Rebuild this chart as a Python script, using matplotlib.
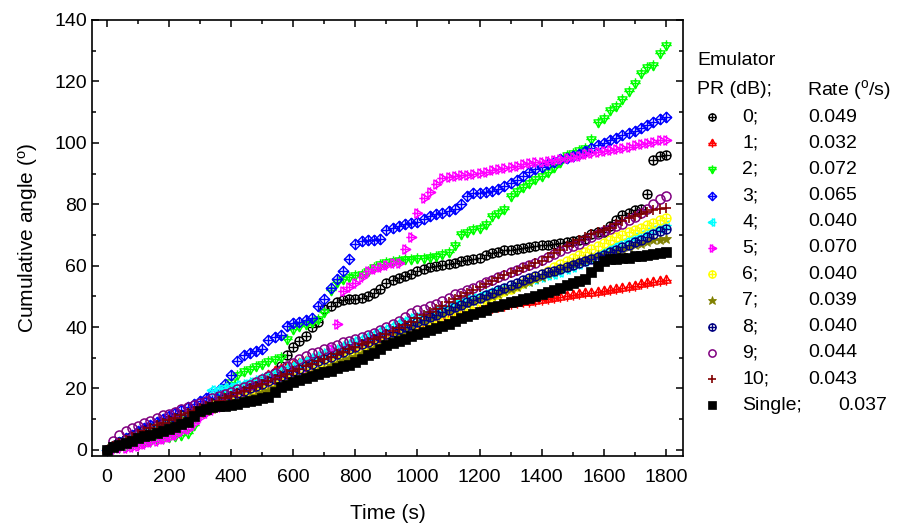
import numpy as np
import matplotlib
matplotlib.use("Agg")
import matplotlib.pyplot as plt
from matplotlib.path import Path
from matplotlib.transforms import Affine2D
from matplotlib.lines import Line2D
from matplotlib.ticker import MultipleLocator

plt.rcParams['font.family'] = ['Liberation Sans', 'DejaVu Sans']
plt.rcParams['mathtext.fontset'] = 'custom'
plt.rcParams['mathtext.rm'] = 'Liberation Sans'
plt.rcParams['mathtext.it'] = 'Liberation Sans:italic'

# sampling every 20 s, 0..1800
time_step = 20

pr_labels = ['0;', '1;', '2;', '3;', '4;', '5;', '6;', '7;', '8;', '9;', '10;', 'Single;']
rates = ['0.049', '0.032', '0.072', '0.065', '0.040', '0.070', '0.040', '0.039', '0.040', '0.044', '0.043', '0.037']

pr0 = [0, 1.2, 2.4, 3.4, 4.4, 5.4, 6.2, 7.0, 7.8, 8.6,
       9.4, 10.2, 11.0, 11.8, 12.6, 13.4, 14.0, 14.6, 15.2, 15.8,
       16.6, 17.4, 18.4, 19.4, 20.6, 22.0, 23.4, 25.0, 27.2, 31.0,
       33.4, 35.6, 37.2, 40.0, 41.8, 45.8, 46.8, 48.0, 48.8, 49.0,
       49.2, 49.6, 50.2, 51.0, 52.4, 54.2, 55.4, 56.0, 56.6, 57.4,
       58.2, 58.8, 59.4, 59.8, 60.2, 60.6, 61.0, 61.4, 61.8, 62.0,
       62.6, 63.6, 64.2, 64.6, 65.0, 65.2, 65.4, 65.8, 66.0, 66.4,
       66.6, 66.8, 67.0, 67.4, 67.8, 68.0, 68.4, 68.8, 70.2, 70.8,
       71.0, 72.8, 75.0, 76.4, 77.2, 78.0, 78.6, 83.4, 94.4, 95.6,
       96.0]
pr1 = [0, 1.2, 2.2, 3.2, 4.2, 5.0, 5.8, 6.6, 7.4, 8.2,
       9.0, 9.8, 10.6, 11.4, 12.2, 13.0, 13.8, 14.8, 15.8, 16.8,
       17.8, 18.8, 19.8, 20.8, 22.0, 23.2, 24.4, 25.6, 26.4, 27.0,
       27.6, 28.2, 28.8, 29.4, 30.0, 30.6, 31.2, 31.8, 32.4, 33.0,
       33.6, 34.2, 34.8, 35.4, 36.0, 36.6, 37.2, 37.8, 38.4, 39.0,
       39.6, 40.2, 40.8, 41.4, 42.0, 42.6, 43.2, 43.8, 44.4, 45.0,
       45.4, 45.8, 46.2, 46.6, 47.0, 47.4, 47.8, 48.0, 48.3, 48.6,
       48.9, 49.2, 49.5, 49.8, 50.1, 50.4, 50.7, 51.0, 51.2, 51.5,
       51.8, 52.1, 52.4, 52.8, 53.1, 53.5, 53.9, 54.3, 54.8, 55.1,
       55.4]
pr2 = [0, 0.6, 1.0, 1.4, 1.8, 2.2, 2.6, 3.0, 3.4, 3.8,
       4.2, 4.6, 5.0, 5.6, 8.0, 12.0, 14.0, 16.0, 18.0, 20.2,
       22.2, 24.4, 25.6, 26.4, 27.2, 28.0, 28.8, 29.6, 30.4, 36.0,
       39.2, 40.2, 41.0, 41.8, 42.6, 45.0, 52.0, 54.8, 55.6, 56.2,
       56.8, 57.4, 58.4, 59.6, 60.4, 61.2, 61.6, 61.8, 62.0, 62.2,
       62.4, 62.6, 62.8, 63.2, 63.8, 64.4, 66.8, 70.4, 71.0, 71.8,
       72.4, 73.6, 76.2, 77.2, 78.4, 82.8, 84.4, 85.6, 86.8, 88.2,
       89.2, 90.4, 92.0, 93.6, 96.0, 96.8, 97.6, 98.4, 101.4, 106.8,
       108.0, 110.6, 112.0, 114.4, 116.8, 119.4, 122.6, 124.6, 125.4, 129.4,
       132.0]
pr3 = [0, 1.4, 2.6, 3.8, 5.0, 6.0, 7.0, 8.0, 9.0, 10.0,
       11.0, 12.0, 13.0, 14.0, 15.0, 16.0, 17.0, 18.2, 19.6, 21.6,
       24.4, 29.0, 31.0, 31.6, 32.2, 32.8, 35.8, 36.6, 37.4, 40.4,
       41.4, 41.8, 42.2, 43.0, 46.8, 49.2, 52.6, 55.6, 58.4, 62.0,
       67.0, 68.0, 68.2, 68.4, 68.8, 71.6, 72.4, 72.8, 73.4, 73.8,
       74.2, 75.2, 76.2, 76.8, 77.2, 77.8, 78.6, 80.2, 82.6, 83.6,
       83.8, 84.0, 84.2, 84.8, 85.8, 86.8, 87.8, 89.2, 90.6, 91.4,
       92.2, 93.0, 93.8, 94.6, 95.2, 95.8, 96.4, 97.2, 98.2, 99.2,
       100.0, 100.8, 101.6, 102.4, 103.2, 104.0, 104.8, 105.8, 106.8, 107.6,
       108.4]
pr4 = [0, 1.2, 2.4, 3.4, 4.4, 5.4, 6.2, 7.0, 7.8, 8.6,
       9.4, 10.2, 11.0, 11.8, 12.6, 13.4, 14.2, 19.4, 19.8, 20.2,
       20.6, 21.0, 21.4, 22.0, 22.6, 23.4, 24.2, 25.0, 25.8, 26.6,
       27.4, 28.2, 29.0, 29.8, 30.6, 31.4, 32.2, 33.0, 33.8, 34.6,
       35.4, 36.2, 37.0, 37.8, 38.6, 39.4, 40.2, 41.2, 42.0, 42.8,
       43.4, 44.0, 44.6, 45.2, 45.8, 46.6, 47.4, 48.2, 49.0, 49.6,
       50.2, 50.8, 51.4, 52.0, 52.6, 53.2, 53.8, 54.4, 55.0, 55.6,
       56.2, 56.8, 57.4, 58.0, 58.8, 59.6, 60.4, 61.4, 62.4, 63.4,
       64.4, 65.4, 66.4, 67.4, 68.4, 69.2, 70.0, 70.8, 71.6, 72.4,
       73.3]
pr5 = [0, 0.3, 0.5, 0.7, 1.0, 1.4, 1.8, 2.4, 3.0, 3.6,
       4.2, 5.0, 6.0, 6.8, 8.8, 10.6, 12.0, 13.0, 14.0, 15.0,
       16.0, 17.0, 17.8, 18.6, 19.4, 20.2, 21.0, 21.8, 22.6, 23.2,
       23.6, 24.0, 24.4, 24.8, 25.2, 25.6, 33.0, 41.0, 51.8, 53.0,
       54.4, 56.4, 58.4, 58.8, 59.6, 60.2, 61.0, 61.0, 65.4, 69.4,
       77.0, 82.0, 84.0, 86.6, 88.6, 89.0, 89.2, 89.4, 89.6, 89.8,
       90.2, 90.6, 91.0, 91.4, 91.8, 92.2, 92.6, 93.0, 93.4, 93.6,
       93.8, 94.0, 94.4, 94.8, 95.2, 95.4, 95.8, 96.2, 96.6, 97.0,
       97.2, 97.6, 98.0, 98.4, 98.8, 99.2, 99.6, 100.0, 100.4, 100.8,
       101.0]
pr6 = [0, 1.2, 2.2, 3.2, 4.2, 5.2, 6.0, 6.8, 7.6, 8.4,
       9.2, 10.0, 10.8, 11.6, 12.4, 13.0, 13.6, 14.2, 14.8, 15.4,
       16.0, 16.6, 17.2, 17.8, 18.6, 19.4, 20.2, 21.0, 21.8, 22.6,
       23.4, 24.2, 25.0, 25.8, 26.6, 27.4, 28.2, 29.0, 29.8, 30.6,
       31.4, 32.2, 33.0, 33.8, 34.6, 35.4, 36.4, 37.4, 38.4, 39.4,
       40.2, 41.0, 41.8, 42.6, 43.4, 44.2, 45.0, 46.0, 46.8, 47.6,
       48.4, 49.2, 50.0, 50.8, 51.6, 52.4, 53.4, 54.4, 55.4, 56.4,
       57.4, 58.4, 59.4, 60.4, 61.4, 62.4, 63.4, 64.4, 65.4, 66.4,
       67.4, 68.4, 69.2, 70.0, 70.8, 71.6, 72.4, 73.2, 74.0, 74.8,
       75.5]
pr7 = [0, 1.0, 1.8, 2.6, 3.4, 4.2, 5.0, 5.8, 6.6, 7.4,
       8.2, 9.0, 9.8, 10.6, 11.4, 12.0, 12.6, 13.2, 13.8, 14.4,
       15.0, 15.6, 16.2, 16.8, 17.6, 18.4, 19.2, 20.0, 20.8, 21.6,
       22.4, 23.2, 24.0, 24.8, 25.6, 26.4, 27.2, 28.0, 28.8, 29.6,
       30.4, 31.2, 32.0, 32.8, 33.6, 34.6, 36.0, 37.4, 38.8, 40.2,
       41.2, 42.0, 42.8, 43.6, 44.4, 45.2, 46.0, 46.8, 47.6, 48.4,
       49.0, 49.6, 50.2, 50.8, 51.6, 52.4, 53.2, 54.0, 54.8, 55.6,
       56.4, 57.2, 58.0, 58.8, 59.6, 60.4, 61.2, 61.8, 62.4, 63.0,
       63.6, 64.2, 64.8, 65.4, 66.0, 66.6, 67.2, 67.8, 68.2, 68.5,
       68.7]
pr8 = [0, 1.4, 2.6, 3.6, 4.6, 5.6, 6.4, 7.2, 8.0, 8.8,
       9.6, 10.4, 11.2, 12.0, 12.8, 13.6, 14.4, 15.2, 16.0, 16.8,
       17.6, 18.4, 19.2, 20.0, 20.8, 21.6, 22.4, 23.2, 24.0, 24.8,
       25.6, 26.4, 27.2, 28.0, 28.8, 29.6, 30.4, 31.2, 32.0, 32.8,
       33.6, 34.4, 35.2, 36.0, 36.8, 37.6, 38.4, 39.2, 40.0, 40.8,
       41.6, 42.4, 43.2, 44.0, 44.8, 45.6, 46.4, 47.2, 48.0, 48.8,
       49.6, 50.4, 51.2, 52.0, 52.8, 53.6, 54.4, 55.2, 56.0, 56.6,
       57.2, 57.8, 58.4, 59.0, 59.6, 60.2, 60.8, 61.4, 62.0, 62.8,
       63.6, 64.4, 65.2, 66.0, 66.8, 67.6, 68.4, 69.4, 70.4, 71.2,
       72.0]
pr9 = [0, 3.0, 4.8, 6.0, 7.2, 7.8, 8.6, 9.5, 10.4, 11.2,
       11.8, 12.4, 13.2, 14.0, 14.6, 15.2, 15.8, 16.8, 17.6, 18.2,
       19.0, 19.8, 20.4, 21.2, 22.2, 23.2, 24.2, 25.0, 26.0, 27.2,
       28.4, 29.6, 30.6, 31.4, 32.0, 32.8, 33.6, 34.2, 35.0, 35.6,
       36.2, 36.8, 37.4, 38.0, 39.0, 40.0, 41.0, 42.0, 43.2, 44.6,
       45.4, 46.0, 46.8, 47.6, 48.6, 49.6, 50.6, 51.2, 52.0, 52.8,
       53.6, 54.6, 55.4, 56.2, 57.0, 57.8, 58.6, 59.4, 60.2, 61.0,
       61.8, 62.8, 63.8, 64.8, 65.6, 66.4, 67.2, 68.2, 69.4, 70.4,
       71.2, 72.0, 72.8, 73.6, 74.8, 76.0, 77.2, 78.6, 80.0, 81.6,
       82.7]
pr10 = [0, 1.2, 2.2, 3.2, 4.2, 5.2, 6.2, 7.2, 8.0, 8.8,
        9.6, 10.4, 11.2, 12.0, 12.8, 13.6, 14.4, 15.2, 16.0, 16.8,
        17.6, 18.4, 19.2, 20.0, 20.8, 21.6, 22.4, 23.2, 24.0, 24.8,
        25.6, 26.4, 27.2, 28.0, 28.8, 29.6, 30.4, 31.2, 32.0, 32.8,
        33.6, 34.4, 35.2, 36.0, 36.8, 37.6, 38.6, 39.6, 40.6, 41.6,
        43.0, 44.0, 45.0, 46.0, 47.0, 48.0, 49.0, 50.0, 51.0, 52.0,
        53.0, 54.0, 55.0, 56.0, 56.8, 57.6, 58.4, 59.2, 60.0, 60.8,
        61.6, 62.8, 64.0, 65.2, 66.4, 67.4, 68.4, 69.4, 70.2, 71.0,
        71.6, 72.4, 73.4, 74.4, 75.4, 76.2, 76.8, 77.4, 78.0, 78.4,
        78.8]
single = [0, 1.0, 1.6, 2.2, 3.0, 3.8, 4.4, 5.0, 5.6, 6.2,
          6.8, 7.6, 8.4, 9.0, 11.0, 12.8, 13.4, 13.8, 14.2, 14.4,
          14.6, 15.0, 15.6, 16.0, 16.4, 16.8, 17.2, 19.0, 20.6, 21.2,
          22.0, 22.8, 23.4, 24.0, 24.6, 25.2, 25.8, 26.6, 27.2, 27.8,
          28.6, 29.6, 30.8, 31.6, 33.0, 34.2, 34.8, 35.4, 36.2, 37.2,
          37.8, 38.4, 39.0, 39.6, 40.2, 41.0, 42.0, 43.0, 43.6, 44.4,
          45.0, 45.6, 46.4, 47.0, 47.6, 48.0, 48.4, 49.0, 49.6, 50.2,
          50.8, 51.4, 52.0, 52.8, 53.6, 54.4, 55.0, 55.6, 58.0, 60.0,
          61.6, 62.0, 62.2, 62.4, 62.6, 63.0, 63.2, 63.6, 63.8, 64.2,
          64.5]

series = [pr0, pr1, pr2, pr3, pr4, pr5, pr6, pr7, pr8, pr9, pr10, single]
colors = ['black', '#ff0000', '#00ff00', '#0000ff', '#00ffff', '#ff00ff',
          '#ffff00', '#808000', '#000080', '#800080', '#800000', 'black']


# Origin style markers: outline shape with a cross through it
def with_cross(base):
    cross = Path([(-1, 0), (1, 0), (0, -1), (0, 1)],
                 [Path.MOVETO, Path.LINETO, Path.MOVETO, Path.LINETO])
    return Path.make_compound_path(base, cross)


tri = Path.unit_regular_polygon(3)
circ_x = with_cross(Path.unit_circle())
tri_up = with_cross(tri)
tri_dn = with_cross(Affine2D().rotate_deg(180).transform_path(tri))
tri_lf = with_cross(Affine2D().rotate_deg(90).transform_path(tri))
tri_rt = with_cross(Affine2D().rotate_deg(-90).transform_path(tri))
diam_x = with_cross(Path.unit_regular_polygon(4))

styles = [
    dict(marker=circ_x, ms=6.5, mfc='none', mew=1.0),
    dict(marker=tri_up, ms=7.5, mfc='none', mew=1.0),
    dict(marker=tri_dn, ms=7.5, mfc='none', mew=1.0),
    dict(marker=diam_x, ms=7.5, mfc='none', mew=1.0),
    dict(marker=tri_lf, ms=7.5, mfc='none', mew=1.0),
    dict(marker=tri_rt, ms=7.5, mfc='none', mew=1.0),
    dict(marker=circ_x, ms=6.5, mfc='none', mew=1.0),
    dict(marker='*', ms=8, mew=0.6),
    dict(marker=circ_x, ms=6.5, mfc='none', mew=1.0),
    dict(marker='o', ms=6.5, mfc='none', mew=1.1),
    dict(marker='+', ms=7.5, mew=1.2),
    dict(marker='s', ms=7, mew=0.5),
]

W, H = 897, 524
fig = plt.figure(figsize=(W / 100, H / 100), dpi=100)
ax = fig.add_axes([92 / W, 68 / H, 591 / W, 436 / H])

for vals, col, st in zip(series, colors, styles):
    t = np.arange(len(vals)) * time_step
    ax.plot(t, vals, ls='none', color=col, mec=col, **st)

ax.set_xlim(-48, 1855)
ax.set_ylim(-2, 140)
ax.xaxis.set_major_locator(MultipleLocator(200))
ax.xaxis.set_minor_locator(MultipleLocator(100))
ax.yaxis.set_major_locator(MultipleLocator(20))
ax.yaxis.set_minor_locator(MultipleLocator(10))
ax.tick_params(which='both', direction='in', top=True, right=True, width=1.1, labelsize=14)
ax.tick_params(which='major', length=5)
ax.tick_params(which='minor', length=3)
ax.tick_params(axis='x', pad=9)
for sp in ax.spines.values():
    sp.set_linewidth(1.2)
ax.set_xlabel('Time (s)', fontsize=15, labelpad=13)
ax.set_ylabel('Cumulative angle ($^{\\rm o}$)', fontsize=15, labelpad=10)


# legend, placed by hand in figure pixels
def fx(x):
    return x / W


def fy(y):
    return 1 - y / H


fig.text(fx(697), fy(61), 'Emulator', fontsize=14, va='center')
fig.text(fx(697), fy(90), 'PR (dB);', fontsize=14, va='center')
fig.text(fx(807), fy(90), 'Rate ($^{\\rm o}$/s)', fontsize=14, va='center')
for i, (lab, rate, col, st) in enumerate(zip(pr_labels, rates, colors, styles)):
    y = 117 + 26.2 * i
    st2 = dict(st)
    st2['ms'] = st['ms'] * 0.8
    fig.add_artist(Line2D([fx(712)], [fy(y)], transform=fig.transFigure,
                          ls='none', color=col, mec=col, **st2))
    fig.text(fx(742), fy(y), lab, fontsize=14, va='center')
    fig.text(fx(838 if lab == 'Single;' else 808), fy(y), rate, fontsize=14, va='center')

fig.savefig('out.png', dpi=100)
